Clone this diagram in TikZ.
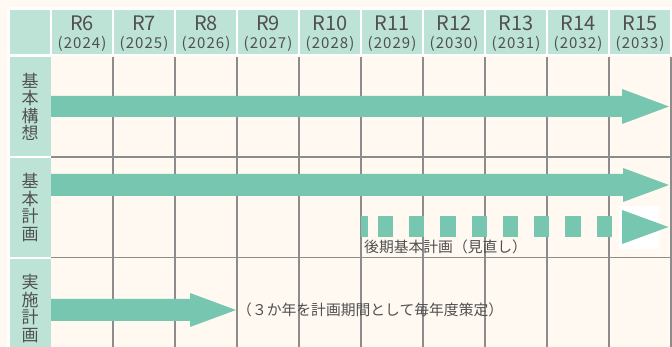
\documentclass[tikz,border=0pt]{standalone}
\usepackage{fontspec}
\setmainfont{Noto Sans CJK JP}
\newfontfamily\yearfont[LetterSpace=7]{Noto Sans CJK JP}
\definecolor{bgcream}{HTML}{FFF9F2}
\definecolor{mintcell}{HTML}{BDE3D7}
\definecolor{arrowgreen}{HTML}{76C6B0}
\definecolor{gridgray}{HTML}{8C8C8C}
\definecolor{txtgray}{HTML}{505050}
\tikzset{
  hdrcell/.style={fill=mintcell},
  gridline/.style={draw=gridgray, line width=1.3pt},
  arrowshape/.style={fill=arrowgreen},
  rtext/.style={inner sep=0pt, text=txtgray, font=\fontsize{20}{20}\selectfont},
  ytext/.style={inner sep=0pt, text=txtgray, font=\fontsize{15}{15}\yearfont},
  vlabel/.style={inner sep=0pt, text=txtgray, align=center, font=\fontsize{17}{17.5}\selectfont},
  note/.style={inner sep=0pt, text=txtgray, anchor=west, font=\fontsize{14.8}{14.8}\selectfont},
}
\begin{document}
\begin{tikzpicture}[x=1pt,y=-1pt]
\useasboundingbox (0,0) rectangle (672,347);
\fill[bgcream] (0,0) rectangle (672,347);
\fill[white] (7,7) rectangle (672,347);
\fill[bgcream] (51,56.5) rectangle (672,347);
% corner cell
\fill[hdrcell] (10,10) rectangle (50,54.5);
% header cells and texts
\foreach \i/\r/\y [count=\k from 0] in {6/R6/2024,7/R7/2025,8/R8/2026,9/R9/2027,10/R10/2028,11/R11/2029,12/R12/2030,13/R13/2031,14/R14/2032,15/R15/2033}{
  \pgfmathsetmacro{\xa}{51+62*\k+1.3}
  \pgfmathsetmacro{\xb}{51+62*(\k+1)-1.3}
  \pgfmathsetmacro{\xc}{51+62*\k+31}
  \fill[hdrcell] (\xa,10) rectangle (\xb,54.5);
  \node[rtext] (r\i) at (\xc,23) {\r};
  \node[ytext] (y\i) at (\xc,44) {(\y)};
}
% label cells
\fill[hdrcell] (10,57) rectangle (51,156);
\fill[hdrcell] (10,158) rectangle (51,257);
\fill[hdrcell] (10,259) rectangle (51,347);
\node[vlabel] (lab1) at (30,107) {基\\本\\構\\想};
\node[vlabel] (lab2) at (30,207.5) {基\\本\\計\\画};
\node[vlabel] (lab3) at (30,308.5) {実\\施\\計\\画};
% grid
\foreach \x in {113,175,237,299,361,423,485,547,609,671}{
  \draw[gridline] (\x,57) -- (\x,347);
}
\draw[gridline] (51,157) -- (671,157);
\draw[gridline] (51,257.5) -- (671,257.5);
% arrows
\fill[arrowshape] (51,96) -- (622,96) -- (622,89) -- (669,106.5) -- (622,124) -- (622,117) -- (51,117) -- cycle;
\fill[arrowshape] (51,174) -- (623,174) -- (623,168) -- (669,185) -- (623,202) -- (623,196) -- (51,196) -- cycle;
\fill[arrowshape] (51,299) -- (190,299) -- (190,293) -- (236,310) -- (190,327) -- (190,321) -- (51,321) -- cycle;
% dashed arrow
\foreach \a/\b in {360.7/367.7,377.7/393.3,409/424.3,440/455.7,471.7/487,502.7/518.3,534/549.3,565.3/580.7,596.7/611.7}{
  \fill[arrowshape] (\a,216) rectangle (\b,237);
}
\fill[white] (619,206) rectangle (659,249);
\fill[arrowshape] (622,210) -- (668.5,227) -- (622,244) -- cycle;
% notes
\node[note] (n1) at (364,247) {後期基本計画（見直し）};
\node[note] (n2) at (237,310) {（３か年を計画期間として毎年度策定）};
\end{tikzpicture}
\end{document}
